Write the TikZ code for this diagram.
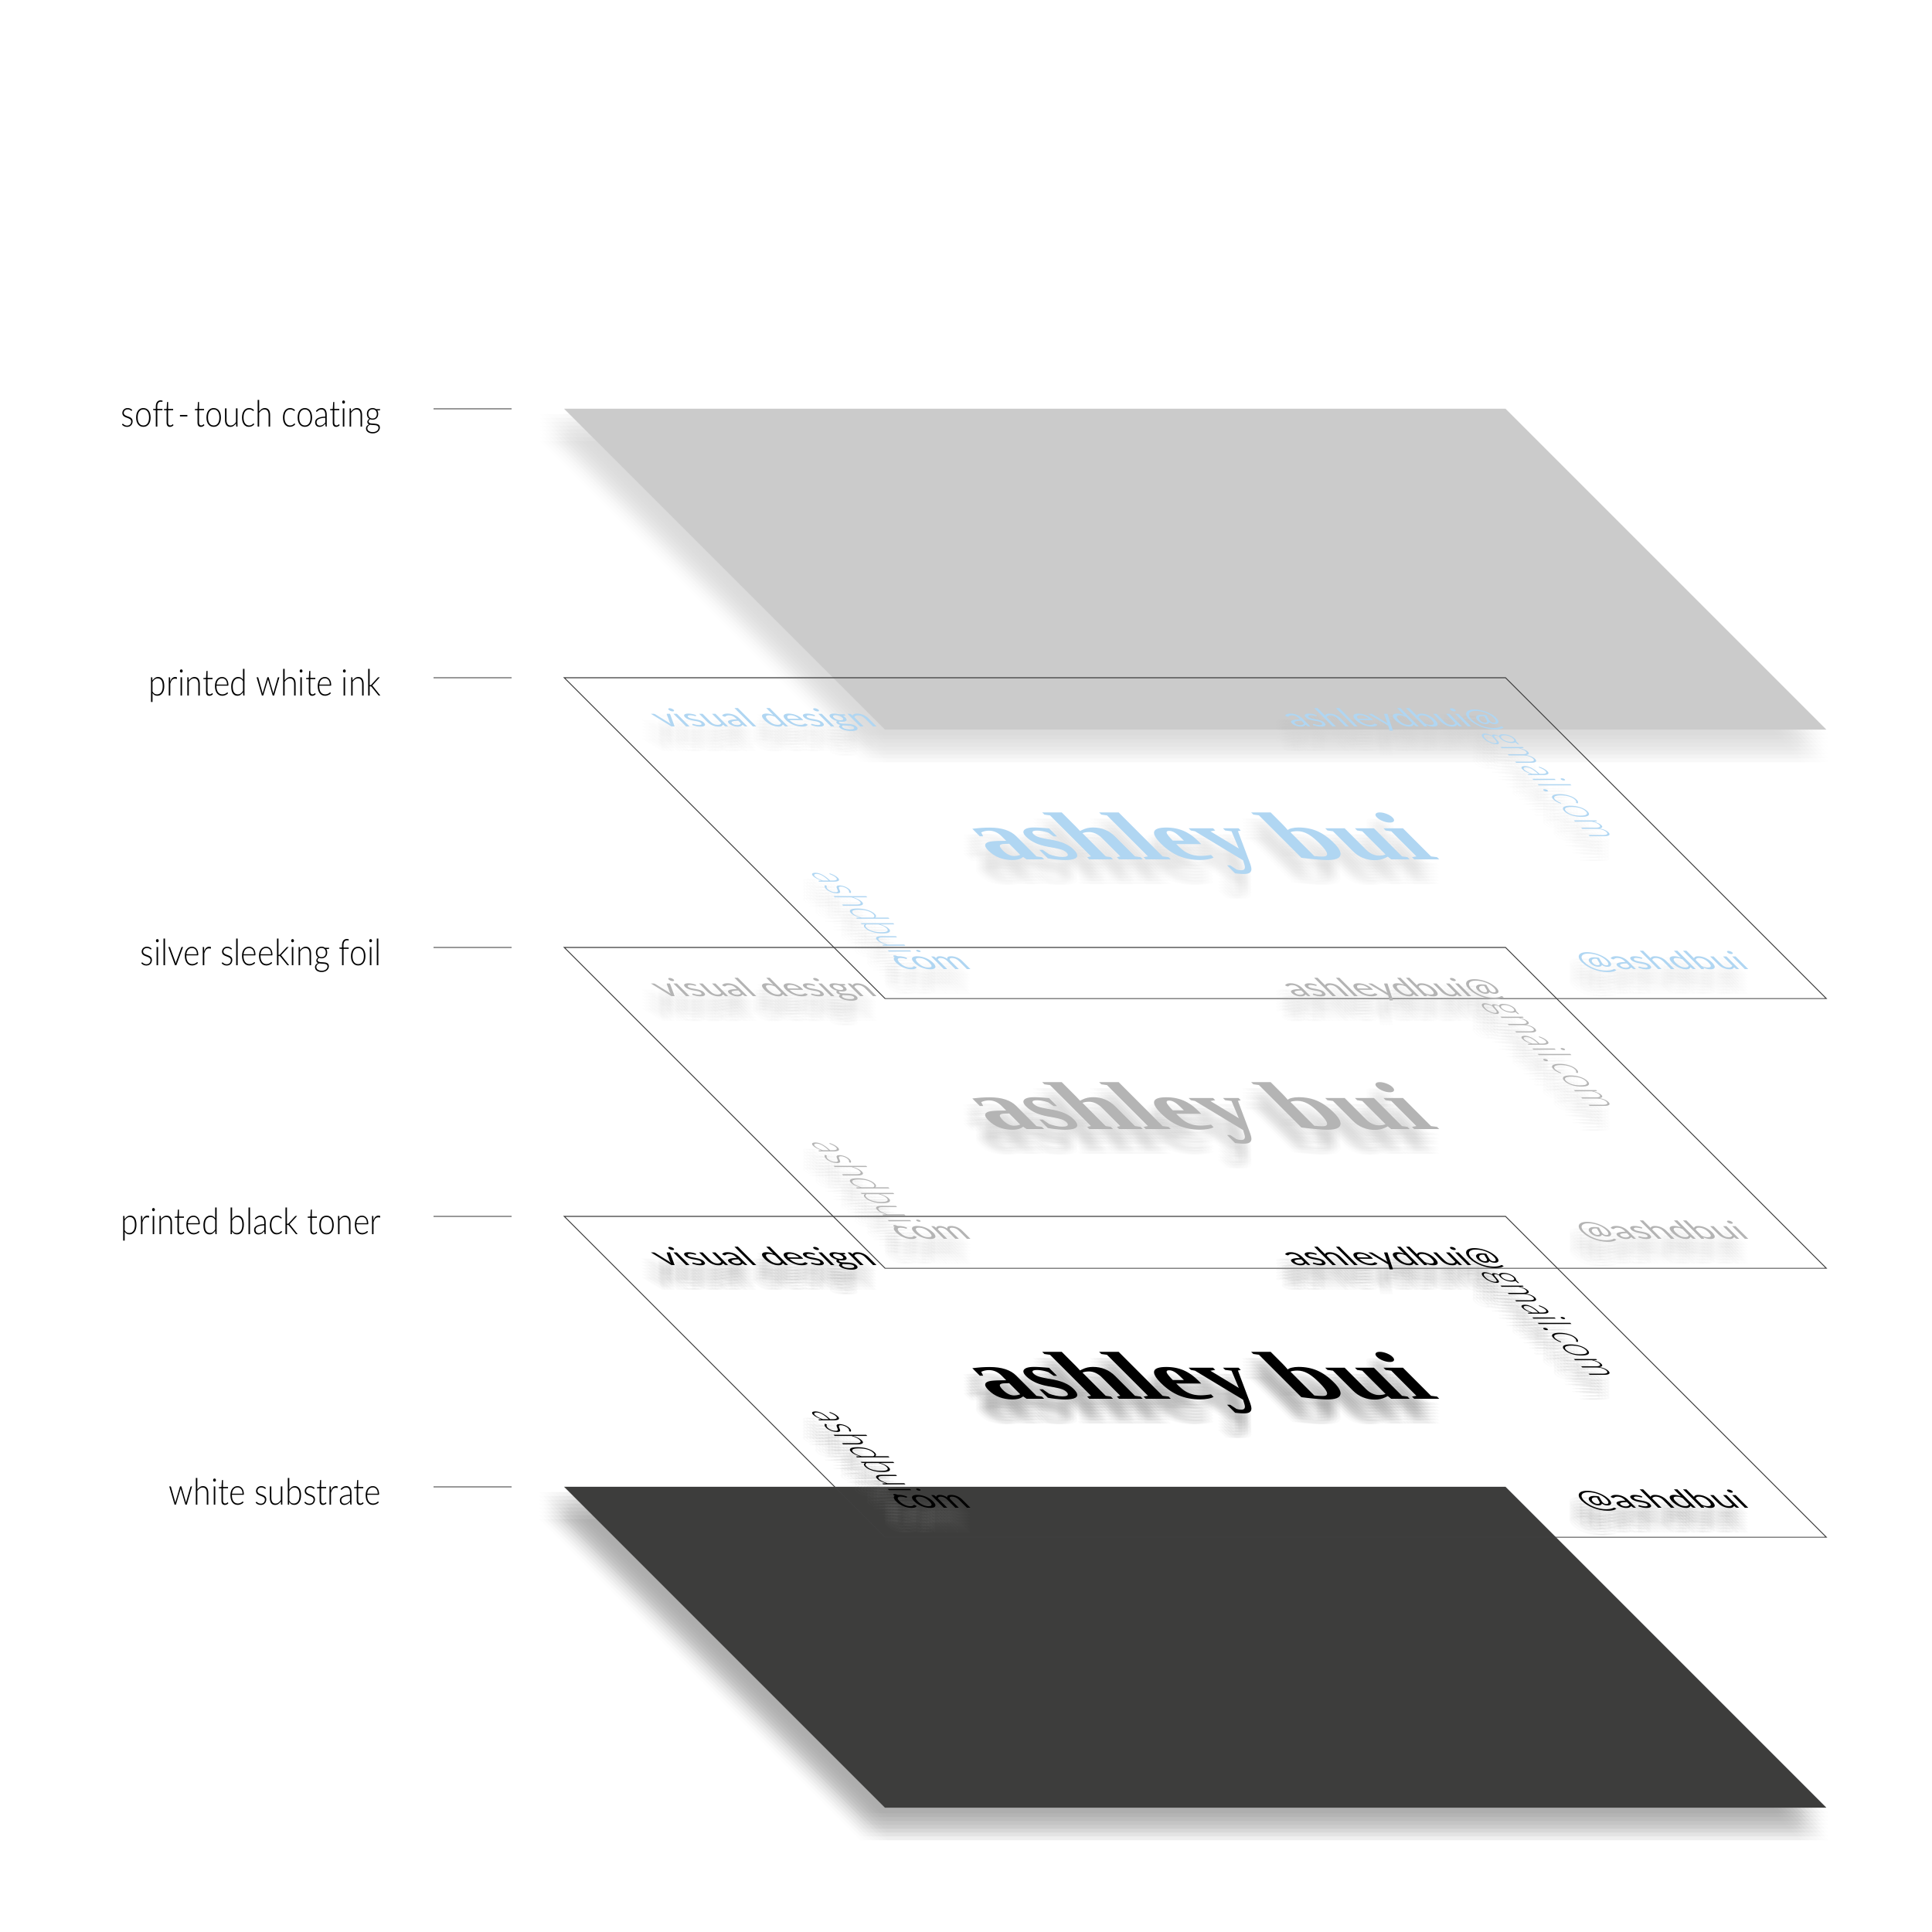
\documentclass[tikz,border=0pt]{standalone}
\usepackage{fontspec}
\setmainfont{Liberation Serif}
\newfontfamily\lblfont[FakeStretch=0.87,Ligatures=NoCommon]{Lato Light}
\newfontfamily\rotfont[FakeStretch=0.92,Ligatures=NoCommon]{Lato Light}
\newfontfamily\smfont[FakeStretch=0.92,Ligatures=NoCommon]{Lato}
\newfontfamily\nmfont[FakeStretch=0.91]{Liberation Serif}
\tikzset{
  crd/.style={cm={1,0,-0.593,0.593,(7.30,#1)}},
  lbl/.style={font=\lblfont\fontsize{13.5}{14}\selectfont,anchor=base east,inner sep=0pt},
  ldr/.style={draw=gray!80,line width=0.35pt},
  crdln/.style={draw=black!75,line width=0.3pt},
  bigtxt/.style={font=\nmfont\bfseries\fontsize{42}{42}\selectfont,anchor=base,inner sep=0pt,transform shape},
  smtxt/.style={font=\smfont\fontsize{15.5}{16}\selectfont,anchor=base west,inner sep=0pt,transform shape},
  rottxt/.style={smtxt,font=\rotfont\fontsize{16.5}{17}\selectfont,rotate=-90}
}
\definecolor{plategray}{HTML}{CBCBCB}
\definecolor{platedark}{HTML}{3D3D3C}
\definecolor{inkblue}{HTML}{B0D6F2}
\definecolor{inksilver}{HTML}{B4B4B4}
% one solid sheet with a soft shadow: top edge, colour, shadow colour, strength
\newcommand{\plate}[4]{
  \foreach \dx in {-.18,-.13,-.08,-.03,.02,.07,.12,.17}
    \foreach \dy in {-.18,-.13,-.08,-.03,.02,.07,.12,.17}
      \fill[#3,fill opacity=#4,shift={(-0.14+\dx,-0.24+\dy)},crd=#1] (0,0) rectangle (12.18,-7);
  \fill[#2,crd=#1] (0,0) rectangle (12.18,-7);
}
\newcommand{\cardwords}[2]{
  \node[bigtxt,#2] (#1name) at (6.10,-3.98) {ashley bui};
  \node[smtxt,#2] (#1vis) at (0.64,-1.07) {visual design};
  \node[smtxt,#2] (#1adr) at (8.80,-1.07) {ashleydbui@};
  \node[rottxt,#2] (#1gml) at (11.22,-1.20) {gmail.com};
  \node[rottxt,#2] (#1hnd) at (0.66,-4.24) {ashdbui.};
  \node[smtxt,#2] (#1com) at (0.58,-6.36) {com};
  \node[smtxt,#2] (#1tag) at (9.45,-6.37) {@ashdbui};
}
% printed sheet: prefix, top edge, ink colour, shadow colour, strength
\newcommand{\inklayer}[5]{
  \foreach \dx in {-.12,-.08,-.04,0}
    \foreach \dy in {-.32,-.28,-.24,-.20,-.16,-.12,-.08} {
      \begin{scope}[shift={(\dx,\dy)},crd=#2]
        \cardwords{#1s}{text=#4,text opacity=#5}
      \end{scope}
    }
  \begin{scope}[crd=#2]
    \draw[crdln] (0,0) rectangle (12.18,-7);
    \cardwords{#1}{text=#3}
  \end{scope}
}
\begin{document}
\begin{tikzpicture}
  \useasboundingbox (0,0) rectangle (25,25);

  \plate{19.71}{plategray}{black!22}{0.016}
  \plate{5.76}{platedark}{black!50}{0.014}

  \inklayer{wht}{16.23}{inkblue}{black!22}{0.03}
  \inklayer{slv}{12.74}{inksilver}{black!30}{0.03}
  \inklayer{blk}{9.26}{black}{black!50}{0.04}

  \node[lbl] (coat) at (4.94,19.47) {soft\kern1.5pt-\kern1.5pt touch coating};
  \node[lbl] (white) at (4.94,15.99) {printed white ink};
  \node[lbl] (foil) at (4.94,12.50) {silver sleeking foil};
  \node[lbl] (toner) at (4.94,9.02) {printed black toner};
  \node[lbl] (subs) at (4.94,5.52) {white substrate};

  \foreach \nm/\yy in {coat/19.71,white/16.23,foil/12.74,toner/9.26,subs/5.76} {
    \coordinate (\nm a) at (5.61,\yy);
    \coordinate (\nm b) at (6.62,\yy);
    \draw[ldr] (\nm a) -- (\nm b);
  }
\end{tikzpicture}
\end{document}
